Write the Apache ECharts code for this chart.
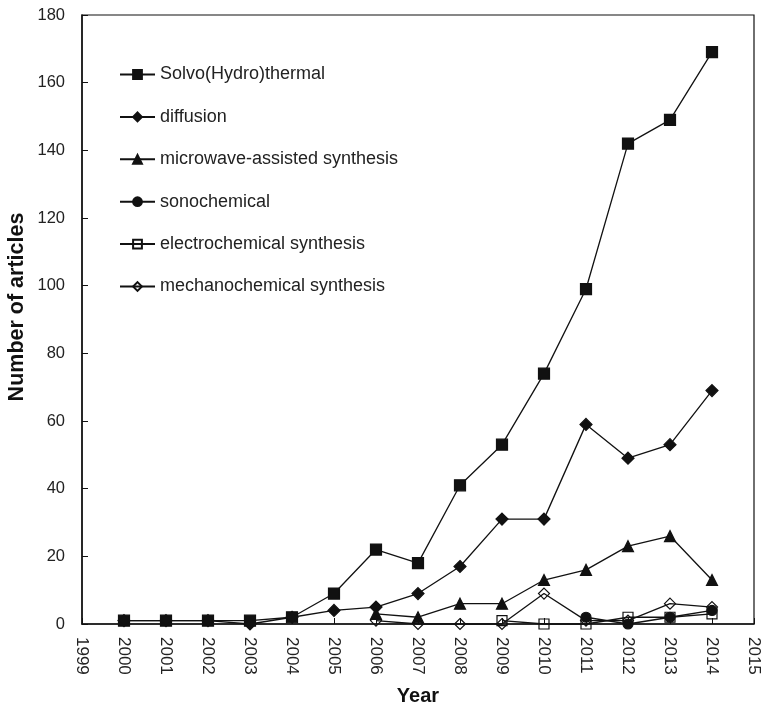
<!DOCTYPE html>
<html>
<head>
<meta charset="utf-8">
<script src="https://cdn.jsdelivr.net/npm/echarts@6/dist/echarts.min.js"></script>
<style>
html,body{margin:0;padding:0;background:#fff;}
#chart{width:764px;height:706px;}
</style>
</head>
<body>
<div id="chart"></div>
<script>
var years = [2000,2001,2002,2003,2004,2005,2006,2007,2008,2009,2010,2011,2012,2013,2014];
var seriesNames = ['Solvo(Hydro)thermal','diffusion','microwave-assisted synthesis','sonochemical','electrochemical synthesis','mechanochemical synthesis'];
var solvo     = [1,1,1,1,2,9,22,18,41,53,74,99,142,149,169];
var diffusion = [1,1,1,0,2,4,5,9,17,31,31,59,49,53,69];
var microwave = [null,null,null,null,null,null,3,2,6,6,13,16,23,26,13];
var sono      = [null,null,null,null,null,null,null,null,null,null,null,2,0,2,4];
var electro   = [null,null,null,null,null,null,null,null,null,1,0,0,2,2,3];
var mechano   = [null,null,null,null,null,null,1,0,0,0,9,1,1,6,5];
var yTicks = [0,20,40,60,80,100,120,140,160,180];
var xTitle = 'Year';
var yTitle = 'Number of articles';

function pairs(vals){
  var out = [];
  for (var i=0;i<years.length;i++){ if (vals[i]!==null) out.push([years[i], vals[i]]); }
  return out;
}

var styles = [
  {symbol:'rect', size:11, fill:'#111'},
  {symbol:'diamond', size:12, fill:'#111'},
  {symbol:'triangle', size:11, fill:'#111'},
  {symbol:'circle', size:10, fill:'#111'},
  {symbol:'rect', size:10, fill:'rgba(255,255,255,0)'},
  {symbol:'diamond', size:11, fill:'rgba(255,255,255,0)'}
];
var allVals = [solvo, diffusion, microwave, sono, electro, mechano];

var series = allVals.map(function(v, i){
  var s = styles[i];
  return {
    name: seriesNames[i],
    type: 'line',
    data: pairs(v),
    symbol: s.symbol,
    symbolSize: s.size,
    showAllSymbol: true,
    clip: false,
    lineStyle: {color:'#111', width:1.3},
    itemStyle: {color: s.fill, borderColor:'#111', borderWidth: 1.2},
    emphasis: {disabled:true},
    z: 2 + i
  };
});

var FONT = 'Liberation Sans, Arial, sans-serif';
var chart = echarts.init(document.getElementById('chart'));
chart.setOption({
  animation: false,
  backgroundColor: '#fff',
  grid: {left:82, right:10, top:15, bottom:82, outerBoundsMode:'none', containLabel:false,
    show:true, borderColor:'#111', borderWidth:1.2, backgroundColor:'rgba(0,0,0,0)'},
  legend: {
    orient:'vertical', left:114, top:60.5,
    itemWidth:35, itemHeight:11, itemGap:24.4,
    textStyle:{fontFamily:FONT, fontSize:18, lineHeight:18, color:'#222'},
    data: seriesNames
  },
  graphic: [{
    type:'text', x:17, y:307, rotation:Math.PI/2,
    style:{text:yTitle, fontFamily:FONT, fontSize:21.5, fontWeight:'bold', fill:'#111', align:'center', verticalAlign:'middle'}
  }],
  xAxis: {
    type:'value', min:1999, max:2015, interval:1,
    name:xTitle, nameLocation:'middle', nameGap:62, nameMoveOverlap:false,
    nameTextStyle:{fontFamily:FONT, fontSize:20, fontWeight:'bold', color:'#111'},
    axisLine:{show:true, onZero:false, lineStyle:{color:'#111', width:1.5}},
    axisTick:{show:true, inside:true, length:6, lineStyle:{color:'#111'}},
    axisLabel:{rotate:-90, margin:13, fontFamily:FONT, fontSize:17, color:'#222',
      formatter:function(v){return String(v);}},
    splitLine:{show:false}
  },
  yAxis: {
    type:'value', min:0, max:180, interval:20,
    axisLine:{show:true, lineStyle:{color:'#111', width:1.5}},
    axisTick:{show:true, inside:true, length:6, lineStyle:{color:'#111'}},
    axisLabel:{margin:17, fontFamily:FONT, fontSize:16.5, color:'#222',
      formatter:function(v){return yTicks.indexOf(v)>=0 ? String(v) : '';}},
    splitLine:{show:false}
  },
  series: series
});
</script>
</body>
</html>
